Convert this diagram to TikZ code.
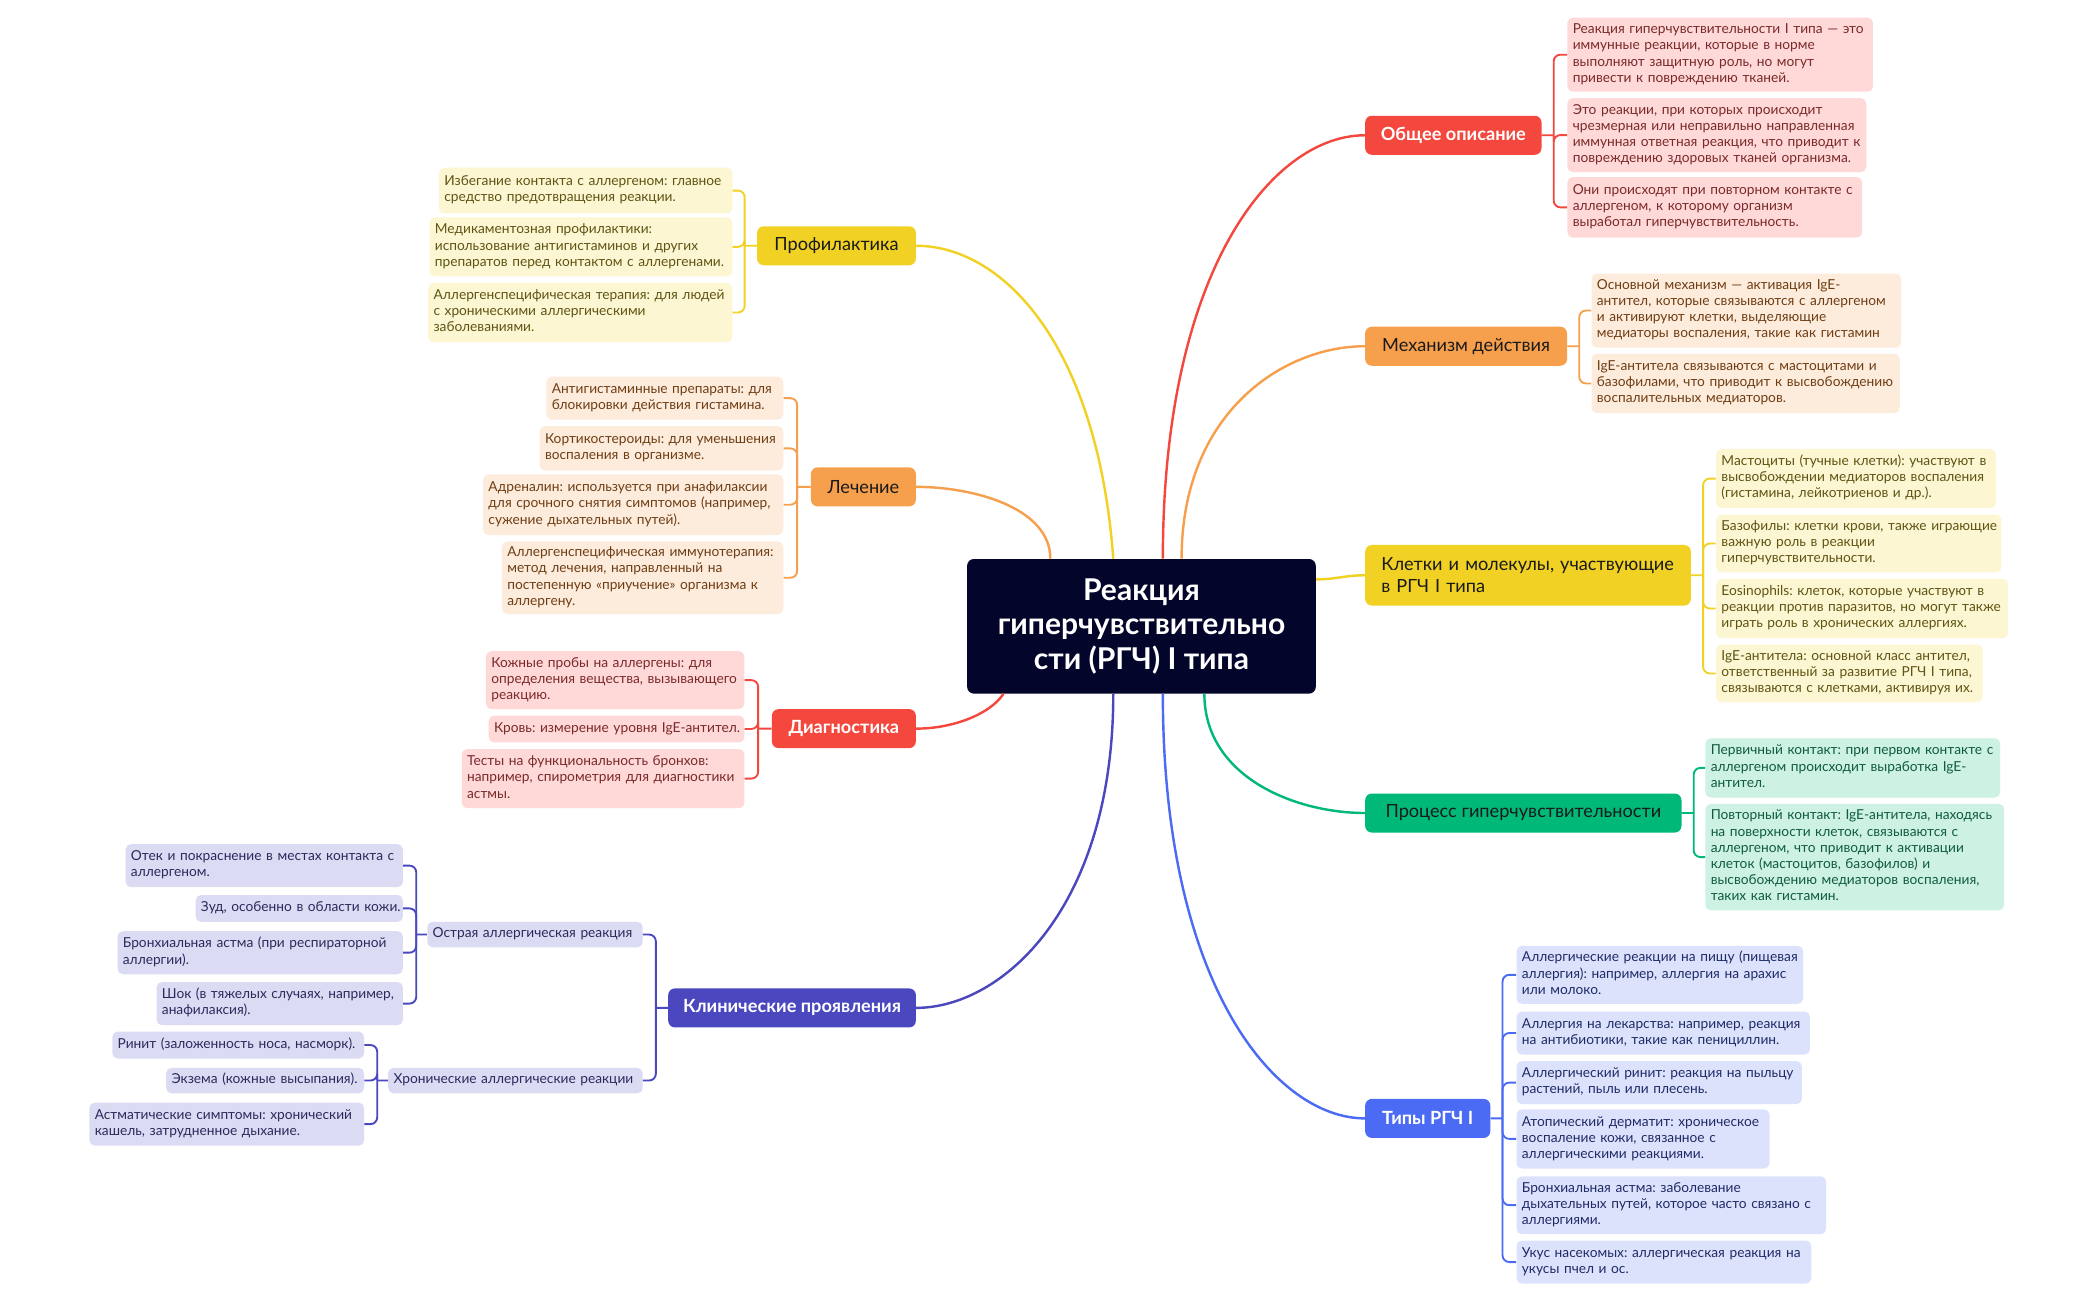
\documentclass[tikz,border=0pt]{standalone}
\usepackage{fontspec}
\setmainfont{Lato}
\newfontfamily\geof{Lato}
\frenchspacing
\newcommand\tb[1]{\begin{tabular}{@{}l@{}}#1\end{tabular}}
\definecolor{cnavy}{HTML}{03062A}
\definecolor{cred}{HTML}{F4473E}
\definecolor{credF}{HTML}{FFD8D8}
\definecolor{credT}{HTML}{7A2A2A}
\definecolor{cora}{HTML}{F6A04D}
\definecolor{coraF}{HTML}{FDEBDC}
\definecolor{coraT}{HTML}{6E3E14}
\definecolor{cyel}{HTML}{F1D124}
\definecolor{cyelF}{HTML}{FDF6D2}
\definecolor{cyelT}{HTML}{5E5414}
\definecolor{cgrn}{HTML}{00B979}
\definecolor{cgrnF}{HTML}{CDF1E3}
\definecolor{cgrnT}{HTML}{0F5C3E}
\definecolor{cblu}{HTML}{4B6BF5}
\definecolor{cbluF}{HTML}{DDE2FC}
\definecolor{cbluT}{HTML}{1E2B66}
\definecolor{cind}{HTML}{4A47BF}
\definecolor{cindF}{HTML}{DCDBF4}
\definecolor{cindT}{HTML}{2A2A5C}
\definecolor{cdark}{HTML}{1A1A1A}
\tikzset{
  leafbox/.style={rounded corners=4pt, inner xsep=4pt, inner ysep=1pt, align=left,
    font=\geof\fontsize{10.2}{12}\selectfont},
  lR/.style={leafbox, fill=credF, text=credT},
  lO/.style={leafbox, fill=coraF, text=coraT},
  lY/.style={leafbox, fill=cyelF, text=cyelT},
  lG/.style={leafbox, fill=cgrnF, text=cgrnT},
  lB/.style={leafbox, fill=cbluF, text=cbluT},
  lI/.style={leafbox, fill=cindF, text=cindT},
  branchbox/.style={rounded corners=5pt, inner sep=0pt, minimum height=29pt,
    font=\geof\fontsize{13.5}{16}\selectfont},
  boldbranch/.style={branchbox, font=\geof\bfseries\fontsize{13.5}{16}\selectfont},
  mainline/.style={line width=1.8pt},
  brline/.style={line width=1.4pt, rounded corners=5pt},
}
\begin{document}
\begin{tikzpicture}[x=1pt,y=-1pt]
\useasboundingbox[fill=white] (0,0) rectangle (1560,965.7);
\begin{scope}[scale=0.995]

% ---------- center ----------
\node[fill=cnavy, rounded corners=5pt, minimum width=259pt, minimum height=100pt,
  text=white, align=center, font=\geof\bfseries\fontsize{22.3}{25.5}\selectfont]
  (ctr) at (852.2,467.6) {Реакция\\гиперчувствительно\\сти (РГЧ) I типа};

% ---------- branch boxes ----------
\node[boldbranch, fill=cred, text=white, minimum width=131pt, anchor=west] (obs) at (1019,101) {Общее описание};
\node[branchbox, fill=cora, text=cdark, minimum width=150pt, anchor=west] (mex) at (1019,258.5) {Механизм действия};
\node[branchbox, fill=cyel, text=cdark, minimum height=45pt, text width=218pt, inner xsep=12pt, align=left, anchor=west] (kle) at (1019,429.5) {Клетки и молекулы, участвующие\\в РГЧ I типа};
\node[branchbox, fill=cgrn, text=cdark, minimum width=235pt, anchor=west] (pro) at (1019,607) {Процесс гиперчувствительности};
\node[boldbranch, fill=cblu, text=white, minimum width=93pt, anchor=west] (typ) at (1019,835) {Типы РГЧ I};

\node[branchbox, fill=cyel, text=cdark, minimum width=118pt, anchor=east] (prf) at (684,183.5) {Профилактика};
\node[branchbox, fill=cora, text=cdark, minimum width=78pt, anchor=east] (lec) at (684,363.5) {Лечение};
\node[boldbranch, fill=cred, text=white, minimum width=107pt, anchor=east] (dia) at (684,544) {Диагностика};
\node[boldbranch, fill=cind, text=white, minimum width=184pt, anchor=east] (cli) at (684,752.5) {Клинические проявления};

% ---------- main connectors ----------
\draw[mainline, cred] ([xshift=16pt]ctr.north) .. controls +(0,-217) and +(-68,0) .. (obs.west);
\draw[mainline, cora] ([xshift=30pt]ctr.north) .. controls +(0,-109) and +(-61,0) .. (mex.west);
\draw[mainline, cyel] ([yshift=35pt]ctr.east) .. controls +(15,0) and +(-15,0) .. (kle.west);
\draw[mainline, cgrn] ([xshift=47pt]ctr.south) .. controls +(0,62) and +(-52,0) .. (pro.west);
\draw[mainline, cblu] ([xshift=16pt]ctr.south) .. controls +(0,219) and +(-66,0) .. (typ.west);
\draw[mainline, cyel] ([xshift=-21pt]ctr.north) .. controls +(-12,-161) and +(64,0) .. (prf.east);
\draw[mainline, cora] ([xshift=-68pt]ctr.north) .. controls +(0,-38) and +(43,0) .. (lec.east);
\draw[mainline, cred] ([xshift=-103pt]ctr.south) .. controls +(-10,15) and +(28,0) .. (dia.east);
\draw[mainline, cind] ([xshift=-21pt]ctr.south) .. controls +(0,160) and +(64,0) .. (cli.east);

% ---------- Общее описание ----------
\node[lR, text width=219pt, minimum height=55pt, anchor=north west] (r1) at (1170,13) {\tb{Реакция гиперчувствительности I типа — это\\иммунные реакции, которые в норме\\выполняют защитную роль, но могут\\привести к повреждению тканей.}};
\node[lR, text width=214pt, minimum height=55pt, anchor=north west] (r2) at (1170,73) {\tb{Это реакции, при которых происходит\\чрезмерная или неправильно направленная\\иммунная ответная реакция, что приводит к\\повреждению здоровых тканей организма.}};
\node[lR, text width=211pt, minimum height=45pt, anchor=north west] (r3) at (1170,132) {\tb{Они происходят при повторном контакте с\\аллергеном, к которому организм\\выработал гиперчувствительность.}};
\coordinate (obsJ) at ([xshift=9pt]obs.east);
\draw[brline, cred] (obs.east) -- (obsJ);
\foreach \n in {r1,r2,r3} \draw[brline, cred] (obsJ) |- (\n.west);

% ---------- Механизм действия ----------
\node[lO, text width=222pt, minimum height=55pt, anchor=north west] (m1) at (1188,204) {\tb{Основной механизм — активация IgE-\\антител, которые связываются с аллергеном\\и активируют клетки, выделяющие\\медиаторы воспаления, такие как гистамин}};
\node[lO, text width=221pt, minimum height=44pt, anchor=north west] (m2) at (1188,264) {\tb{IgE-антитела связываются с мастоцитами и\\базофилами, что приводит к высвобождению\\воспалительных медиаторов.}};
\coordinate (mexJ) at ([xshift=9pt]mex.east);
\draw[brline, cora] (mex.east) -- (mexJ);
\foreach \n in {m1,m2} \draw[brline, cora] (mexJ) |- (\n.west);

% ---------- Клетки и молекулы ----------
\node[lY, text width=200pt, minimum height=44pt, anchor=north west] (k1) at (1281,335) {\tb{Мастоциты (тучные клетки): участвуют в\\высвобождении медиаторов воспаления\\(гистамина, лейкотриенов и др.).}};
\node[lY, text width=204pt, minimum height=43pt, anchor=north west] (k2) at (1281,384) {\tb{Базофилы: клетки крови, также играющие\\важную роль в реакции\\гиперчувствительности.}};
\node[lY, text width=209pt, minimum height=44pt, anchor=north west] (k3) at (1281,432) {\tb{Eosinophils: клеток, которые участвуют в\\реакции против паразитов, но могут также\\играть роль в хронических аллергиях.}};
\node[lY, text width=190pt, minimum height=43pt, anchor=north west] (k4) at (1281,481) {\tb{IgE-антитела: основной класс антител,\\ответственный за развитие РГЧ I типа,\\связываются с клетками, активируя их.}};
\coordinate (kleJ) at ([xshift=9pt]kle.east);
\draw[brline, cyel] (kle.east) -- (kleJ);
\foreach \n in {k1,k2,k3,k4} \draw[brline, cyel] (kleJ) |- (\n.west);

% ---------- Процесс ----------
\node[lG, text width=211pt, minimum height=44pt, anchor=north west] (g1) at (1273,551) {\tb{Первичный контакт: при первом контакте с\\аллергеном происходит выработка IgE-\\антител.}};
\node[lG, text width=214pt, minimum height=79pt, anchor=north west] (g2) at (1273,600) {\tb{Повторный контакт: IgE-антитела, находясь\\на поверхности клеток, связываются с\\аллергеном, что приводит к активации\\клеток (мастоцитов, базофилов) и\\высвобождению медиаторов воспаления,\\таких как гистамин.}};
\coordinate (proJ) at ([xshift=9pt]pro.east);
\draw[brline, cgrn] (pro.east) -- (proJ);
\foreach \n in {g1,g2} \draw[brline, cgrn] (proJ) |- (\n.west);

% ---------- Типы ----------
\node[lB, text width=205pt, minimum height=43pt, anchor=north west] (b1) at (1132,706) {\tb{Аллергические реакции на пищу (пищевая\\аллергия): например, аллергия на арахис\\или молоко.}};
\node[lB, text width=210pt, minimum height=32pt, anchor=north west] (b2) at (1132,755) {\tb{Аллергия на лекарства: например, реакция\\на антибиотики, такие как пенициллин.}};
\node[lB, text width=204pt, minimum height=32pt, anchor=north west] (b3) at (1132,792) {\tb{Аллергический ринит: реакция на пыльцу\\растений, пыль или плесень.}};
\node[lB, text width=180pt, minimum height=44pt, anchor=north west] (b4) at (1132,828) {\tb{Атопический дерматит: хроническое\\воспаление кожи, связанное с\\аллергическими реакциями.}};
\node[lB, text width=222pt, minimum height=43pt, anchor=north west] (b5) at (1132,878) {\tb{Бронхиальная астма: заболевание\\дыхательных путей, которое часто связано с\\аллергиями.}};
\node[lB, text width=211pt, minimum height=32pt, anchor=north west] (b6) at (1132,926) {\tb{Укус насекомых: аллергическая реакция на\\укусы пчел и ос.}};
\coordinate (typJ) at ([xshift=9pt]typ.east);
\draw[brline, cblu] (typ.east) -- (typJ);
\foreach \n in {b1,b2,b3,b4,b5,b6} \draw[brline, cblu] (typJ) |- (\n.west);

% ---------- Профилактика ----------
\node[lY, text width=210pt, minimum height=34pt, anchor=north east] (p1) at (547,125) {\tb{Избегание контакта с аллергеном: главное\\средство предотвращения реакции.}};
\node[lY, text width=217pt, minimum height=44pt, anchor=north east] (p2) at (547,162) {\tb{Медикаментозная профилактики:\\использование антигистаминов и других\\препаратов перед контактом с аллергенами.}};
\node[lY, text width=218pt, minimum height=44pt, anchor=north east] (p3) at (547,211) {\tb{Аллергенспецифическая терапия: для людей\\с хроническими аллергическими\\заболеваниями.}};
\coordinate (prfJ) at ([xshift=-9pt]prf.west);
\draw[brline, cyel] (prf.west) -- (prfJ);
\foreach \n in {p1,p2,p3} \draw[brline, cyel] (prfJ) |- (\n.east);

% ---------- Лечение ----------
\node[lO, text width=168pt, minimum height=32pt, anchor=north east] (l1) at (585,281) {\tb{Антигистаминные препараты: для\\блокировки действия гистамина.}};
\node[lO, text width=173pt, minimum height=33pt, anchor=north east] (l2) at (585,318) {\tb{Кортикостероиды: для уменьшения\\воспаления в организме.}};
\node[lO, text width=215pt, minimum height=45pt, anchor=north east] (l3) at (585,354) {\tb{Адреналин: используется при анафилаксии\\для срочного снятия симптомов (например,\\сужение дыхательных путей).}};
\node[lO, text width=201pt, minimum height=54pt, anchor=north east] (l4) at (585,404) {\tb{Аллергенспецифическая иммунотерапия:\\метод лечения, направленный на\\постепенную «приучение» организма к\\аллергену.}};
\coordinate (lecJ) at ([xshift=-10pt]lec.west);
\draw[brline, cora] (lec.west) -- (lecJ);
\foreach \n in {l1,l2,l3,l4} \draw[brline, cora] (lecJ) |- (\n.east);

% ---------- Диагностика ----------
\node[lR, text width=184pt, minimum height=43pt, anchor=north east] (d1) at (556,486) {\tb{Кожные пробы на аллергены: для\\определения вещества, вызывающего\\реакцию.}};
\node[lR, text width=182pt, minimum height=20pt, anchor=north east] (d2) at (556,534) {\tb{Кровь: измерение уровня IgE-антител.}};
\node[lR, text width=202pt, minimum height=44pt, anchor=north east] (d3) at (556,559) {\tb{Тесты на функциональность бронхов:\\например, спирометрия для диагностики\\астмы.}};
\coordinate (diaJ) at ([xshift=-10pt]dia.west);
\draw[brline, cred] (dia.west) -- (diaJ);
\foreach \n in {d1,d2,d3} \draw[brline, cred] (diaJ) |- (\n.east);

% ---------- Клинические проявления ----------
\node[lI, text width=152pt, minimum height=19pt, anchor=north east] (s1) at (480,688) {\tb{Острая аллергическая реакция}};
\node[lI, text width=181pt, minimum height=19pt, anchor=north east] (s2) at (480,797) {\tb{Хронические аллергические реакции}};
\coordinate (cliJ) at ([xshift=-9pt]cli.west);
\draw[brline, cind] (cli.west) -- (cliJ);
\foreach \n in {s1,s2} \draw[brline, cind] (cliJ) |- (\n.east);

\node[lI, text width=198pt, minimum height=32pt, anchor=north east] (c1) at (301,630) {\tb{Отек и покраснение в местах контакта с\\аллергеном.}};
\node[lI, text width=146pt, minimum height=20pt, anchor=north east] (c2) at (301,668) {\tb{Зуд, особенно в области кожи.}};
\node[lI, text width=204pt, minimum height=32pt, anchor=north east] (c3) at (301,695) {\tb{Бронхиальная астма (при респираторной\\аллергии).}};
\node[lI, text width=175pt, minimum height=32pt, anchor=north east] (c4) at (301,733) {\tb{Шок (в тяжелых случаях, например,\\анафилаксия).}};
\coordinate (s1J) at ([xshift=-8pt]s1.west);
\draw[brline, cind] (s1.west) -- (s1J);
\foreach \n in {c1,c2,c3,c4} \draw[brline, cind] (s1J) |- (\n.east);

\node[lI, text width=179pt, minimum height=20pt, anchor=north east] (e1) at (272,770) {\tb{Ринит (заложенность носа, насморк).}};
\node[lI, text width=139pt, minimum height=19pt, anchor=north east] (e2) at (272,797) {\tb{Экзема (кожные высыпания).}};
\node[lI, text width=196pt, minimum height=32pt, anchor=north east] (e3) at (272,823) {\tb{Астматические симптомы: хронический\\кашель, затрудненное дыхание.}};
\coordinate (s2J) at ([xshift=-8pt]s2.west);
\draw[brline, cind] (s2.west) -- (s2J);
\foreach \n in {e1,e2,e3} \draw[brline, cind] (s2J) |- (\n.east);

\end{scope}
\end{tikzpicture}
\end{document}
